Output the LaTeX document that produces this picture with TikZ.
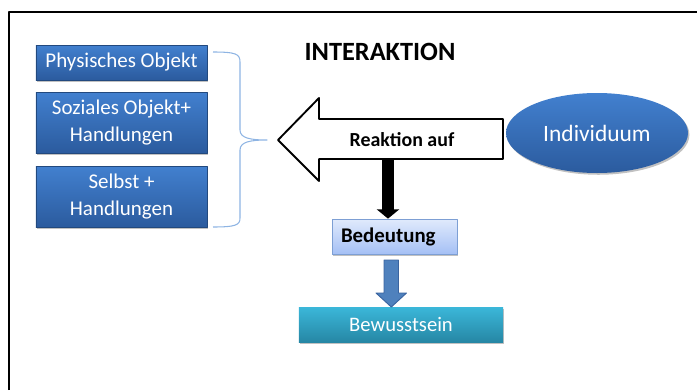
\documentclass[tikz,border=0pt]{standalone}
\usepackage{fontspec}
\setmainfont{Carlito}
\usetikzlibrary{arrows.meta,shapes.geometric,shadows}
\definecolor{boxtop}{RGB}{66,128,207}
\definecolor{boxbot}{RGB}{43,91,158}
\definecolor{hellblau}{RGB}{142,180,227}
\definecolor{bedtop}{RGB}{224,234,252}
\definecolor{bedbot}{RGB}{165,192,245}
\definecolor{bedrand}{RGB}{125,159,212}
\definecolor{bewtop}{RGB}{59,183,217}
\definecolor{bewbot}{RGB}{38,135,165}
\definecolor{pfeilblau}{RGB}{79,129,189}
\definecolor{pfeilrand}{RGB}{58,100,160}
\tikzset{
  schatten/.style={drop shadow={shadow xshift=1.2pt,shadow yshift=-1.5pt,opacity=0.35,fill=black!70}},
  objbox/.style={schatten,top color=boxtop,bottom color=boxbot,draw=boxbot!80!black,line width=0.3pt,
    minimum width=5.13cm,text=white,align=center,inner sep=0pt,font=\fontsize{17.9}{22.5}\selectfont},
}
\begin{document}
\begin{tikzpicture}[x=0.03cm,y=-0.03cm,line join=round]
  \useasboundingbox (0,0) rectangle (697,390);
  \draw[line width=1.3pt] (9,390)--(9,12)--(697,12);
  % linke Seite
  \node[objbox,minimum height=1.05cm] (phys) at (121.5,62.5) {Physisches Objekt};
  \node[objbox,minimum height=1.83cm] (sozial) at (121.5,122.5) {Soziales Objekt+\\Handlungen};
  \node[objbox,minimum height=1.83cm] (selbst) at (121.5,196.5) {Selbst +\\Handlungen};
  \draw[hellblau,line width=0.9pt] (213,52) .. controls (236,52) and (240,54) .. (240,62)
    -- (240,130) .. controls (240,138) and (250,140) .. (267,140)
    .. controls (250,140) and (240,142) .. (240,150)
    -- (240,218) .. controls (240,225) and (236,227) .. (213,227);
  \node[font=\bfseries\fontsize{22.5}{24}\selectfont] (titel) at (380,52) {INTERAKTION};
  % Reaktionspfeil
  \draw[line width=1.6pt,fill=white] (503,119)--(319,119)--(319,98)--(278,140)--(319,181)--(319,159)--(503,159)--cycle;
  \node[font=\bfseries\fontsize{17}{20}\selectfont] (reaktion) at (402,140) {Reaktion auf};
  \node[ellipse,schatten,top color=boxtop,bottom color=boxbot,minimum width=5.46cm,minimum height=2.4cm,
    inner sep=0pt,text=white,font=\fontsize{20}{22}\selectfont] (indiv) at (597,133) {Individuum};
  % rechte Seite unten
  \node[schatten,top color=bedtop,bottom color=bedbot,draw=bedrand,line width=0.6pt,minimum height=1.05cm,
    text width=3.21cm,inner xsep=0.27cm,align=left,font=\bfseries\fontsize{17.8}{20}\selectfont] (bedeutung) at (394.5,236.5) {Bedeutung};
  \node[schatten,top color=bewtop,bottom color=bewbot,minimum width=6.12cm,minimum height=1.05cm,
    text=white,font=\fontsize{17.6}{20}\selectfont] (bewusst) at (401,324.5) {Bewusstsein};
  \coordinate (schaft) at (388,159);
  \draw[line width=9.5pt,-{Triangle[length=8pt,width=19pt]}] (schaft) -- (schaft |- bedeutung.north);
  \draw[fill=pfeilblau,draw=pfeilrand,line width=0.8pt] (384,260)--(398.5,260)--(398.5,293)--(406.5,293)
    --(391.3,307)--(376,293)--(384,293)--cycle;
\end{tikzpicture}
\end{document}
